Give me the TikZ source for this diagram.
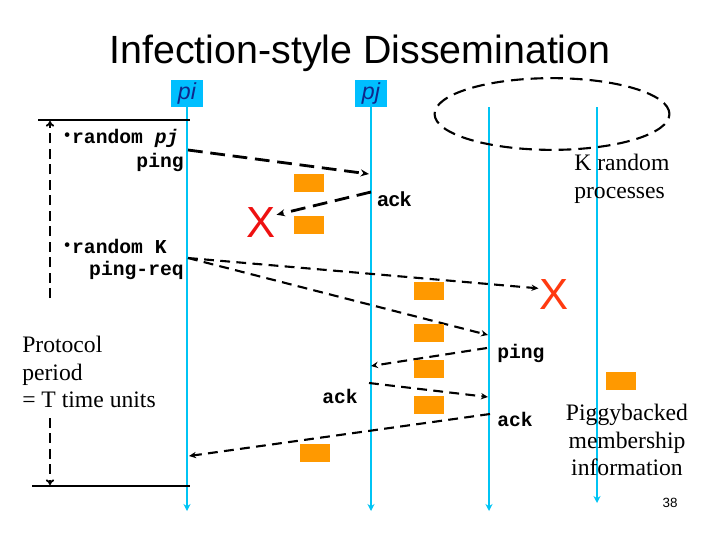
\documentclass[tikz,border=0pt]{standalone}
\usepackage{fontspec}
\setmainfont{Liberation Serif}
\setsansfont{Liberation Sans}
\setmonofont{Liberation Mono}
\usetikzlibrary{arrows.meta,positioning,shapes.geometric}
\definecolor{lifecyan}{HTML}{00C4F4}
\definecolor{labelcyan}{HTML}{00BFFF}
\definecolor{navytext}{HTML}{10288C}
\definecolor{piggyorange}{HTML}{FF9900}
\definecolor{lossred}{HTML}{EE1111}
\definecolor{lossorange}{HTML}{FF3A10}
\newcommand{\cmdbullet}{\makebox[7pt][l]{\raisebox{2pt}{\fontsize{11.5}{11.5}\selectfont•}}}
\tikzset{
  title/.style={font=\sffamily\fontsize{28}{32}\selectfont,inner sep=0pt},
  proc/.style={fill=labelcyan,text=navytext,font=\sffamily\itshape\fontsize{16.5}{18}\selectfont,minimum width=22.7pt,minimum height=19.1pt,inner sep=0pt},
  life/.style={draw=lifecyan,line width=1.4pt,-{Stealth[length=5pt,width=5pt]}},
  kset/.style={draw,ellipse,dash pattern=on 9pt off 5pt,line width=1.5pt,minimum width=167pt,minimum height=51pt,inner sep=0pt},
  cmd/.style={font=\ttfamily\bfseries\fontsize{14}{17}\selectfont,inner sep=0pt},
  acksans/.style={font=\sffamily\bfseries\fontsize{14.5}{17}\selectfont,inner sep=0pt},
  note/.style={font=\rmfamily\fontsize{16.8}{19.8}\selectfont,inner sep=0pt},
  lost/.style={font=\sffamily\fontsize{31}{31}\selectfont,inner sep=0.5pt},
  piggy/.style={fill=piggyorange,minimum width=21.3pt,minimum height=12.8pt,inner sep=0pt},
  bound/.style={draw=black,line width=1.6pt},
  period/.style={draw=black,line width=1.3pt,dash pattern=on 7pt off 4pt,-{To[length=4pt,width=6pt]}},
  msgbig/.style={draw=black,line width=2pt,dash pattern=on 10.5pt off 5.5pt,-{Stealth[length=6pt,width=5pt]}},
  msg/.style={draw=black,line width=1.5pt,dash pattern=on 7pt off 4.5pt,-{Stealth[length=5pt,width=4.5pt]}}
}
\begin{document}
\begin{tikzpicture}[x=0.025cm,y=-0.025cm]
\path[use as bounding box] (0,0) rectangle (720,540);
\node[title,anchor=base] (title) at (360,63) {Infection-style Dissemination};
% processes and lifelines
\node[proc] (pi) at (187,93.5) {pi}; \node[proc] (pj) at (371,93.5) {pj};
\coordinate (pi-end) at (187,511); \coordinate (pj-end) at (371,511);
\coordinate (k1-top) at (489,107); \coordinate (k1-end) at (489,511);
\coordinate (k2-top) at (597,107); \coordinate (k2-end) at (597,503);
\draw[life] (pi) -- (pi-end); \draw[life] (pj) -- (pj-end);
\draw[life] (k1-top) -- (k1-end); \draw[life] (k2-top) -- (k2-end);
\node[kset] (kset) at (552,114) {};
\node[note,anchor=west,align=left] (ktext) at (574,179) {K random\\processes};
% protocol period
\draw[bound] (38,120) -- (190,120); \draw[bound] (32,486) -- (190,486);
\draw[period] (50,298) -- (50,121); \draw[period] (50,418) -- (50,485);
\node[note,anchor=west,align=left] (ptext) at (22,372) {Protocol\\period\\= T time units};
\node[cmd,anchor=west] (b1) at (62,138) {\cmdbullet random \textit{pj}};
\node[cmd,anchor=east] (b1ping) at (184,162) {ping};
\node[cmd,anchor=west] (b2) at (62,246) {\cmdbullet random K};
\node[cmd,anchor=east] (b2req) at (184,270) {ping-req};
% direct ping
\coordinate (pi-ping) at (188,150); \coordinate (pj-ping) at (369,174);
\draw[msgbig] (pi-ping) -- (pj-ping);
\coordinate (pj-ack) at (371,192);
\node[lost,text=lossred] (x1) at (261,222) {X};
\draw[msgbig] (pj-ack) -- (x1.25);
\node[acksans,anchor=west] (ack1) at (377,199) {ack};
% indirect ping
\coordinate (pi-req) at (188,258);
\node[lost,text=lossorange] (x2) at (554,294) {X};
\draw[msg] (pi-req) -- (x2.160);
\coordinate (k1-req) at (488,335); \draw[msg] (pi-req) -- (k1-req);
\coordinate (k1-ping) at (487,348); \coordinate (pj-ping2) at (371,366); \draw[msg] (k1-ping) -- (pj-ping2);
\coordinate (pj-ack2) at (369,383); \coordinate (k1-ack) at (488,397); \draw[msg] (pj-ack2) -- (k1-ack);
\coordinate (k1-ack2) at (490,414); \coordinate (pi-ack) at (189,456); \draw[msg] (k1-ack2) -- (pi-ack);
\node[cmd,anchor=west] (ping2) at (497,353) {ping};
\node[cmd,anchor=west] (ack2) at (322,396) {ack};
\node[cmd,anchor=west] (ack3) at (497,419) {ack};
% piggybacked membership information
\node[piggy] (pb1) at (309,183) {}; \node[piggy] (pb2) at (309,225) {};
\node[piggy] (pb3) at (429,291) {}; \node[piggy] (pb4) at (429,333) {};
\node[piggy] (pb5) at (429,369) {}; \node[piggy] (pb6) at (429,405) {};
\node[piggy] (pb7) at (315,453) {}; \node[piggy] (pb8) at (621,381) {};
\node[note,align=center] (ptext2) at (627,440) {Piggybacked\\membership\\ information};
\node[font=\sffamily\fontsize{9.5}{11}\selectfont,inner sep=0pt] (pageno) at (670,503) {38};
\end{tikzpicture}
\end{document}
